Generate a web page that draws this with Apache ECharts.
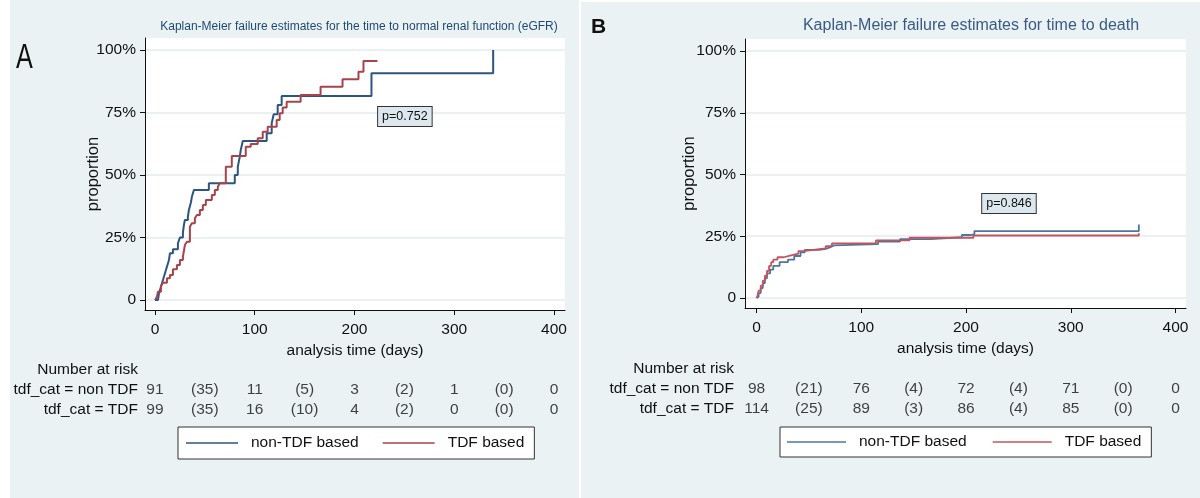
<!DOCTYPE html>
<html>
<head>
<meta charset="utf-8">
<script src="https://cdn.jsdelivr.net/npm/echarts@6/dist/echarts.min.js"></script>
<style>
  html, body { margin: 0; padding: 0; background: #fff; }
  #chart { width: 1200px; height: 498px; }
</style>
</head>
<body>
<div id="chart"></div>
<script>
// KM failure curves for two outcomes (A: normal renal function, B: death),
// with number-at-risk tables drawn on hidden axes under each plot.

const TIMES = [0, 50, 100, 150, 200, 250, 300, 350, 400];
const X_TICKS = [0, 100, 200, 300, 400];
const Y_TICKS = [0, 0.25, 0.5, 0.75, 1];
const ROWS = ['Number at risk', 'tdf_cat = non TDF', 'tdf_cat = TDF'];
const NAMES = ['non-TDF based', 'TDF based'];

// panel A: [days, cumulative failure]
const A_NON_TDF = [
  [0, 0], [3, 0], [4, 0.027], [6, 0.053], [8, 0.08], [10, 0.107], [12, 0.133], [14, 0.16],
  [15, 0.187], [18, 0.203], [23, 0.227], [25, 0.25], [28, 0.27], [29, 0.3], [30, 0.32],
  [33, 0.333], [34, 0.36], [36, 0.39], [37, 0.413], [39, 0.44], [54, 0.467], [80, 0.5],
  [83, 0.533], [85, 0.573], [86, 0.6], [88, 0.636], [112, 0.667], [117, 0.707], [119, 0.743],
  [123, 0.78], [127, 0.816], [217, 0.907], [339, 1.0],
];
const A_TDF = [
  [0, 0], [2, 0.013], [3, 0.033], [6, 0.056], [8, 0.069], [12, 0.087], [15, 0.1], [18, 0.123],
  [22, 0.14], [25, 0.16], [28, 0.173], [30, 0.22], [32, 0.233], [35, 0.293], [37, 0.307],
  [40, 0.327], [42, 0.34], [45, 0.36], [48, 0.38], [51, 0.4], [57, 0.42], [60, 0.44],
  [63, 0.453], [65, 0.467], [71, 0.533], [77, 0.576], [91, 0.613], [96, 0.624], [103, 0.647],
  [108, 0.673], [113, 0.693], [122, 0.72], [125, 0.747], [128, 0.77], [132, 0.793],
  [146, 0.82], [166, 0.853], [188, 0.883], [204, 0.913], [209, 0.956], [223, 0.956],
];
const A_RISK_NON = ['91', '(35)', '11', '(5)', '3', '(2)', '1', '(0)', '0'];
const A_RISK_TDF = ['99', '(35)', '16', '(10)', '4', '(2)', '0', '(0)', '0'];
const A_P = 'p=0.752';

// panel B
const B_NON_TDF = [
  [0, 0], [1, 0.005], [2, 0.02], [4, 0.04], [6, 0.06], [8, 0.08], [10, 0.1], [13, 0.115],
  [16, 0.13], [22, 0.145], [30, 0.155], [36, 0.17], [42, 0.185], [46, 0.195], [60, 0.199],
  [66, 0.205], [70, 0.213], [74, 0.218], [116, 0.228], [137, 0.238], [166, 0.246],
  [196, 0.255], [204, 0.258], [208, 0.271], [365, 0.271], [365, 0.298],
];
const B_TDF = [
  [0, 0], [1, 0.01], [2, 0.03], [4, 0.05], [6, 0.07], [8, 0.09], [10, 0.11], [12, 0.13],
  [14, 0.145], [16, 0.155], [20, 0.165], [26, 0.172], [32, 0.18], [40, 0.19], [45, 0.197],
  [58, 0.201], [66, 0.21], [72, 0.221], [114, 0.233], [146, 0.244], [207, 0.253],
  [365, 0.253], [365, 0.262],
];
const B_RISK_NON = ['98', '(21)', '76', '(4)', '72', '(4)', '71', '(0)', '0'];
const B_RISK_TDF = ['114', '(25)', '89', '(3)', '86', '(4)', '85', '(0)', '0'];
const B_P = 'p=0.846';

const BG = '#eaf2f3';
const INK = '#111';
const FONT = '"Liberation Sans", Arial, sans-serif';

function pct(v) {
  return v === 0 ? '0' : Math.round(v * 100) + '%';
}

function riskRows(non, tdf) {
  return TIMES.map((t, i) => [t, ROWS[1], non[i]])
    .concat(TIMES.map((t, i) => [t, ROWS[2], tdf[i]]));
}

// one panel = plot grid + risk table grid
function panel(p) {
  const gi = p.idx * 2;
  const grids = [
    { left: p.left, top: p.top, width: p.width, height: p.height, show: true, backgroundColor: '#fff', borderWidth: 0 },
    { left: p.left, top: p.tableTop, width: p.width, height: 60 },
  ];
  const xAxes = [
    {
      gridIndex: gi, type: 'value', min: p.xMin, max: p.xMax,
      axisLine: { show: true, onZero: false, lineStyle: { color: INK, width: 1 } },
      axisTick: { show: true, length: 5, customValues: X_TICKS, lineStyle: { color: INK } },
      axisLabel: { customValues: X_TICKS, margin: 12, fontSize: p.fs, color: INK },
      splitLine: { show: false },
      name: 'analysis time (days)', nameLocation: 'middle', nameGap: p.xNameGap, nameMoveOverlap: false,
      nameTextStyle: { fontSize: p.fs, color: INK },
    },
    { gridIndex: gi + 1, type: 'value', min: p.xMin, max: p.xMax, show: false },
  ];
  const yAxes = [
    {
      gridIndex: gi, type: 'value', min: p.yMin, max: p.yMax,
      axisLine: { show: true, onZero: false, lineStyle: { color: INK, width: 1 } },
      axisTick: { show: true, length: 5, customValues: Y_TICKS, lineStyle: { color: INK } },
      axisLabel: { customValues: Y_TICKS, margin: 9, fontSize: p.fs, color: INK, formatter: pct },
      splitLine: { show: true, lineStyle: { color: '#eaf1f4', width: 2 } },
      name: 'proportion', nameLocation: 'middle', nameGap: p.yNameGap, nameMoveOverlap: false,
      nameTextStyle: { fontSize: 16.5, color: INK },
    },
    {
      gridIndex: gi + 1, type: 'category', data: ROWS, inverse: true,
      axisLine: { show: false }, axisTick: { show: false },
      axisLabel: { interval: 0, margin: p.rowMargin, fontSize: p.fs, color: INK },
    },
  ];
  const xi = p.idx * 2;
  const series = [
    {
      name: NAMES[0], type: 'line', step: 'end', symbol: 'none', data: p.non,
      xAxisIndex: xi, yAxisIndex: xi, color: p.blue, lineStyle: { width: p.lw, color: p.blue },
      markPoint: {
        symbol: 'rect', symbolSize: 0, silent: true,
        data: [{ coord: p.pCoord, value: p.pText }],
        label: {
          show: true, position: 'inside', formatter: p.pText, fontSize: 12.5, color: INK,
          backgroundColor: '#dde8ee', borderColor: '#333', borderWidth: 1, padding: [3, 4],
        },
      },
    },
    {
      name: NAMES[1], type: 'line', step: 'end', symbol: 'none', data: p.tdf,
      xAxisIndex: xi, yAxisIndex: xi, color: p.red, lineStyle: { width: p.lw, color: p.red },
    },
    {
      type: 'scatter', xAxisIndex: xi + 1, yAxisIndex: xi + 1, symbolSize: 0, silent: true,
      data: riskRows(p.riskNon, p.riskTdf),
      label: { show: true, position: 'inside', formatter: (d) => d.value[2], fontSize: p.fs, color: INK },
    },
  ];
  const legend = {
    left: p.legLeft, top: 427, backgroundColor: '#fff', borderColor: '#333', borderWidth: 1,
    padding: p.legPad, icon: 'rect', itemWidth: p.legIcon, itemHeight: 1.5, itemGap: p.legGap, selectedMode: false,
    data: [
      { name: NAMES[0], itemStyle: { color: p.blue } },
      { name: NAMES[1], itemStyle: { color: p.red } },
    ],
    textStyle: { fontSize: p.fs, color: INK, padding: [0, 0, 0, p.legText], lineHeight: 16 },
  };
  return { grids, xAxes, yAxes, series, legend };
}

const pa = panel({
  idx: 0, left: 145, top: 38, width: 420, height: 272, tableTop: 360,
  xMin: -10, xMax: 411, yMin: -0.04, yMax: 1.048, fs: 15.5, xNameGap: 33, yNameGap: 43, rowMargin: 7,
  non: A_NON_TDF, tdf: A_TDF, riskNon: A_RISK_NON, riskTdf: A_RISK_TDF,
  pText: A_P, pCoord: [250.5, 0.734], blue: '#2c5680', red: '#a9434b', lw: 2,
  legLeft: 178, legPad: [8, 10, 8, 8], legIcon: 52, legGap: 24, legText: 8,
});
const pb = panel({
  idx: 1, left: 745, top: 39, width: 441, height: 269, tableTop: 359,
  xMin: -11, xMax: 410, yMin: -0.0405, yMax: 1.0486, fs: 15.5, xNameGap: 33, yNameGap: 47, rowMargin: 11,
  non: B_NON_TDF, tdf: B_TDF, riskNon: B_RISK_NON, riskTdf: B_RISK_TDF,
  pText: B_P, pCoord: [241, 0.383], blue: '#4a76a0', red: '#c4535b', lw: 1.8,
  legLeft: 780, legPad: [7, 10, 7, 7], legIcon: 59, legGap: 26, legText: 8,
});

const chart = echarts.init(document.getElementById('chart'), null, { renderer: 'canvas' });
chart.setOption({
  animation: false,
  textStyle: { fontFamily: FONT },
  title: [
    { text: 'Kaplan-Meier failure estimates for the time to normal renal function (eGFR)', left: 354, top: 16, textAlign: 'center',
      textStyle: { fontSize: 12, fontWeight: 'normal', color: '#1f4a73', fontFamily: FONT } },
    { text: 'Kaplan-Meier failure estimates for time to death', left: 966, top: 13, textAlign: 'center',
      textStyle: { fontSize: 16, fontWeight: 'normal', color: '#3a5a86', fontFamily: FONT } },
  ],
  graphic: [
    { type: 'rect', z: -10, silent: true, shape: { x: 10, y: 0, width: 569, height: 498 }, style: { fill: BG } },
    { type: 'rect', z: -10, silent: true, shape: { x: 581, y: 2, width: 619, height: 496 }, style: { fill: BG } },
    { type: 'text', x: 16, y: 41, scaleX: 0.72, style: { text: 'A', fontSize: 35, fill: '#111', fontFamily: FONT } },
    { type: 'text', x: 591, y: 17, style: { text: 'B', fontSize: 21, fontWeight: 'bold', fill: '#111', fontFamily: FONT } },
  ],
  grid: pa.grids.concat(pb.grids),
  xAxis: pa.xAxes.concat(pb.xAxes),
  yAxis: pa.yAxes.concat(pb.yAxes),
  legend: [pa.legend, pb.legend],
  series: pa.series.concat(pb.series),
});
</script>
</body>
</html>
